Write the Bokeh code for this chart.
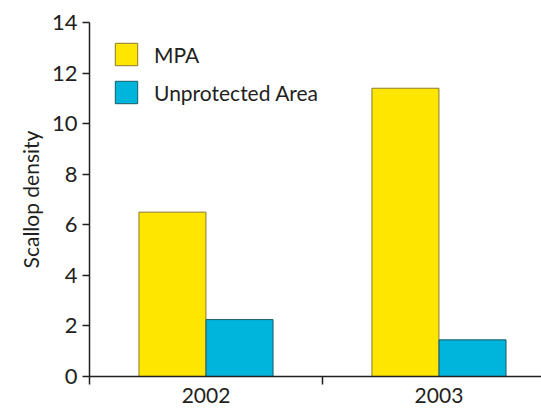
from bokeh.plotting import figure
from bokeh.models import ColumnDataSource, FixedTicker, Range1d, Legend, LegendItem
from bokeh.transform import dodge
from bokeh.embed import file_html
from bokeh.resources import INLINE

years = ["2002", "2003"]
mpa = [6.5, 11.4]
unprotected = [2.25, 1.45]
y_ticks = [0, 2, 4, 6, 8, 10, 12, 14]

FONT = "Lato"
TXT = "#231f20"

xpos = [i + 0.5 for i in range(len(years))]
src = ColumnDataSource(dict(x=xpos, mpa=mpa, unp=unprotected, year=years))

p = figure(width=541, height=411, output_backend="svg", toolbar_location=None,
           x_range=Range1d(0, 1.94), y_range=Range1d(0, 14),
           min_border_left=89, min_border_right=0, min_border_top=22, min_border_bottom=35)
p.outline_line_color = None
p.grid.visible = False
p.background_fill_color = "white"
p.border_fill_color = "white"

bw = 0.2875
r1 = p.vbar(x=dodge("x", -0.144, range=p.x_range), top="mpa", width=bw, source=src,
            fill_color="#ffe600", line_color="#8a7a2a", line_width=1)
r2 = p.vbar(x=dodge("x", 0.144, range=p.x_range), top="unp", width=bw, source=src,
            fill_color="#00b5dc", line_color="#1a5a66", line_width=1)

# x axis
xa = p.xaxis[0]
xa.ticker = FixedTicker(ticks=xpos, minor_ticks=[0, 1, 2])
xa.major_label_overrides = {x: y for x, y in zip(xpos, years)}
xa.major_tick_line_color = None
xa.minor_tick_out = 8
xa.minor_tick_in = 0
xa.minor_tick_line_color = TXT
xa.minor_tick_line_width = 1.5
xa.axis_line_color = TXT
xa.axis_line_width = 1.5
xa.major_label_text_font = FONT
xa.major_label_text_font_size = "21px"
xa.major_label_text_color = TXT
xa.major_label_standoff = 3

# y axis
ya = p.yaxis[0]
ya.ticker = FixedTicker(ticks=y_ticks)
ya.minor_tick_line_color = None
ya.major_tick_out = 7
ya.major_tick_in = 0
ya.major_tick_line_color = TXT
ya.major_tick_line_width = 1.5
ya.axis_line_color = TXT
ya.axis_line_width = 1.5
ya.major_label_text_font = FONT
ya.major_label_text_font_size = "22px"
ya.major_label_text_color = TXT
ya.major_label_standoff = 5
ya.axis_label = "Scallop density"
ya.axis_label_text_font = FONT
ya.axis_label_text_font_style = "normal"
ya.axis_label_text_font_size = "21px"
ya.axis_label_text_color = TXT
ya.axis_label_standoff = 6

legend = Legend(items=[LegendItem(label="MPA", renderers=[r1]),
                       LegendItem(label="Unprotected Area", renderers=[r2])],
                location=(23, 270))
legend.border_line_color = None
legend.background_fill_alpha = 0
legend.glyph_width = 28
legend.glyph_height = 28
legend.label_text_font = FONT
legend.label_text_font_size = "21px"
legend.label_text_color = TXT
legend.label_height = 28
legend.spacing = 10
legend.label_standoff = 14
legend.margin = 0
legend.padding = 0
p.add_layout(legend)

open("out.html", "w").write(file_html(p, INLINE))
